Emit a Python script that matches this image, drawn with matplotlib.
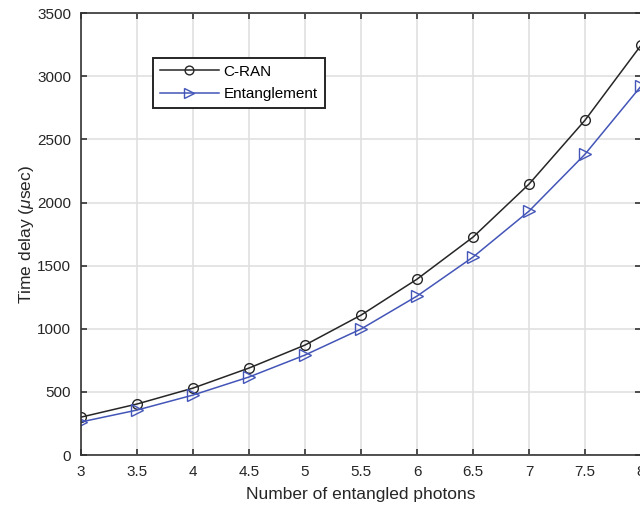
import numpy as np
import matplotlib
matplotlib.use('Agg')
import matplotlib.pyplot as plt

plt.rcParams['font.family'] = ['Liberation Sans', 'DejaVu Sans']
plt.rcParams['mathtext.fontset'] = 'custom'
plt.rcParams['mathtext.it'] = 'Liberation Sans:italic'

# Werte
photons = [3, 3.5, 4, 4.5, 5, 5.5, 6, 6.5, 7, 7.5, 8]
cran = [300, 404, 530, 689, 871, 1108, 1393, 1726, 2146, 2652, 3246]
entanglement = [262, 356, 475, 618, 792, 998, 1259, 1568, 1932, 2383, 2922]

fig = plt.figure(figsize=(6.4, 5.12), dpi=100)
ax = fig.add_axes([0.1266, 0.1113, 0.875, 0.863])

ax.plot(photons, cran, color='#262626', marker='o', markersize=7,
        markerfacecolor='none', linewidth=1.1, label='C-RAN')
ax.plot(photons, entanglement, color='#4455b8', marker='>', markersize=8,
        markerfacecolor='none', linewidth=1.1, label='Entanglement')

ax.set_xlim(3, 8)
ax.set_ylim(0, 3500)
ax.set_xticks(np.arange(3, 8.01, 0.5))
ax.set_xticklabels(['3', '3.5', '4', '4.5', '5', '5.5', '6', '6.5', '7', '7.5', '8'])
ax.set_yticks(np.arange(0, 3501, 500))

ax.grid(True, color='#e0e0e0', linewidth=1.2)
ax.set_axisbelow(True)
for s in ax.spines.values():
    s.set_color('#333333')
    s.set_linewidth(1.2)
ax.tick_params(direction='in', length=4, color='#333333', labelsize=11,
               labelcolor='#262626', top=True, right=True, width=1.2, pad=7)

ax.set_xlabel('Number of entangled photons', fontsize=12.5, color='#262626', labelpad=6)
ax.set_ylabel(r'Time delay ($\mu$sec)', fontsize=12.5, color='#262626', labelpad=1)

leg = ax.legend(loc='upper left', bbox_to_anchor=(0.128, 0.899), fontsize=11,
                fancybox=False, framealpha=1, edgecolor='#262626',
                handlelength=3.9, borderpad=0.45, labelspacing=0.55,
                handletextpad=0.3, borderaxespad=0, markerscale=0.9)
leg.get_frame().set_linewidth(1.4)

fig.savefig('out.png', dpi=100)
